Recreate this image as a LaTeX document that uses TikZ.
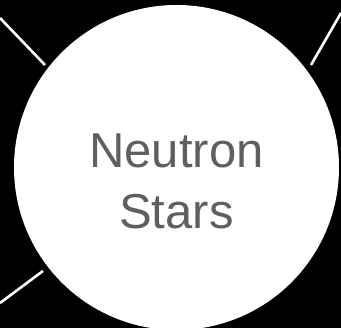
\documentclass[tikz,border=0pt]{standalone}
\usepackage{fontspec}
\setmainfont{Liberation Sans}
\usepackage{xcolor}
\usepackage{tikz}
\definecolor{nsgray}{HTML}{5f5f5f}

\begin{document}
\begin{tikzpicture}[x=1pt,y=1pt,
    starball/.style={circle,fill=white,inner sep=0pt,minimum size=325pt},
    starlabel/.style={text=nsgray,align=center,font=\fontsize{49}{61}\selectfont},
    spoke/.style={white,line width=2.6pt}]
  \fill[black] (0,0) rectangle (341,328);
  \useasboundingbox (0,0) rectangle (341,328);
  \node[starball] (ns) at (176.5,160.5) {};
  \node[starlabel] (nstext) at (176.5,147) {Neutron\\Stars};
  \coordinate (tlout) at (0,310);
  \coordinate (tlin) at (45,263);
  \coordinate (trout) at (341,315);
  \coordinate (trin) at (311,263);
  \coordinate (blout) at (0,25);
  \coordinate (blin) at (43,57);
  \draw[spoke] (tlout) -- (tlin);
  \draw[spoke] (trout) -- (trin);
  \draw[spoke] (blout) -- (blin);
\end{tikzpicture}
\end{document}
